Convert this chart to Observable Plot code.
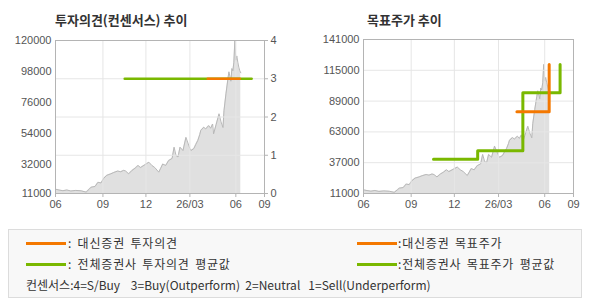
<!DOCTYPE html>
<html><head><meta charset="utf-8">
<script src="https://cdn.jsdelivr.net/npm/d3@7"></script>
<script src="https://cdn.jsdelivr.net/npm/@observablehq/plot@0.6"></script>
<style>
body{margin:0;background:#fff;width:590px;height:300px;overflow:hidden;font-family:"Noto Sans CJK KR","Noto Sans",sans-serif;}
#wrap{position:relative;width:590px;height:300px;}
.title{position:absolute;top:11px;font-size:13px;font-weight:bold;color:#333;line-height:18px;white-space:nowrap;}
.chart{position:absolute;top:0;}
#legendbox{position:absolute;left:8px;top:229px;width:574px;height:69px;border:1px solid #dcdcdc;background:#f8f8f8;box-sizing:border-box;}
.sw{position:absolute;width:40px;height:3px;}
.lt{position:absolute;font-size:12px;color:#333;line-height:16px;white-space:pre;}
.sp{letter-spacing:0.8px;word-spacing:2px;}
</style>
</head><body>
<div id="wrap">
  <div class="title" style="left:55px">투자의견(컨센서스) 추이</div>
  <div class="title" style="left:367px">목표주가 추이</div>
  <div id="c1" class="chart" style="left:0px"></div>
  <div id="c1o" class="chart" style="left:0px"></div>
  <div id="c2" class="chart" style="left:308px"></div>
  <div id="legendbox"></div>
  <div id="legend"></div>
</div>
<script>
// ---- data ----
// days since 2025-06-01
const priceDays = [1,7,15,23,31,41,52,62,68,72,80,86,92,98,104,112,118,126,132,138,142,148,155,161,167,172,181,189,195,201,209,213,217,223,229,236,240,244,248,252,258,264,268,272,274,280,284,288,292,294,300,304,310,314,318,320,325,331,335,339,341,345,349,351,355,357,359,361,363,365,367,369,371,373,375];
const prices = [14000,13500,13000,13500,12800,13200,12900,12000,14000,15500,16000,19000,18500,22000,24000,25000,26000,27000,26500,27500,27000,25000,27500,29000,31000,29500,31500,33300,31000,29500,26200,29000,32000,31000,34500,36000,44000,38000,37000,44000,41600,51000,47000,43000,41600,43000,46000,48800,53000,55900,58200,57000,59400,57500,60500,53500,60000,67800,62000,58000,70000,82000,92700,97700,91000,100000,98400,104500,120000,106000,109000,104500,101000,98400,97000];

const xTickDays = [0,96,183,272,365,423];
const xTickLabels = ["06","09","12","26/03","06","09"];
const leftPriceTicks = [11000,32000,54000,76000,98000,120000];
const rightPriceTicks = [11000,37000,63000,89000,115000,141000];
const opinionTicks = [0,1,2,3,4];

const opinionAllDays = [140,397];
const opinionAll = [3,3];
const opinionDaishinDays = [308,373];
const opinionDaishin = [3,3];

const targetAllDays = [141,230,321,396];
const targetAll = [40000,47000,96000,120000];
const targetDaishinDays = [309,374];
const targetDaishin = [80000,120000];

const ORANGE = "#f47800", GREEN = "#7ab800";

// ---- build tables ----
const priceData = priceDays.map((d,i)=>({day:d, price:prices[i]}));
const zip = (a,b)=>a.map((d,i)=>({day:d, v:b[i]}));
const labelOf = new Map(xTickDays.map((d,i)=>[d,xTickLabels[i]]));
const axisStyle = {fontFamily:"'Liberation Sans', Arial, sans-serif", fontSize:"11px", color:"#555", background:"transparent", overflow:"visible"};
const gridColor = "#e6e6e6";
const frameColor = "#b4b4b4";

// ---- left chart: price base ----
const left = Plot.plot({
  width:295, height:220, marginLeft:55, marginRight:31, marginTop:40, marginBottom:27,
  x:{domain:[0,423], label:null}, y:{domain:[11000,120000], label:null},
  style:axisStyle,
  marks:[
    Plot.areaY(priceData,{x:"day", y1:11000, y2:"price", fill:"#e0e0e0"}),
    Plot.lineY(priceData,{x:"day", y:"price", stroke:"#b8b8b8", strokeWidth:1}),
    Plot.axisY(leftPriceTicks,{anchor:"left", tickSize:0, tickPadding:4, tickFormat:d=>String(d), fill:"#555"}),
    Plot.axisX(xTickDays,{anchor:"bottom", tickSize:4, tickPadding:3, tickFormat:d=>labelOf.get(d), stroke:frameColor, fill:"#555"})
  ]
});
document.getElementById("c1").append(left);

// ---- left chart: opinion overlay ----
const leftO = Plot.plot({
  width:295, height:220, marginLeft:55, marginRight:31, marginTop:40, marginBottom:27,
  x:{domain:[0,423], label:null, axis:null}, y:{domain:[0,4], label:null},
  style:axisStyle,
  marks:[
    Plot.gridY(opinionTicks,{stroke:gridColor, strokeOpacity:1}),
    Plot.gridX(xTickDays,{stroke:gridColor, strokeOpacity:1}),
    Plot.line(zip(opinionAllDays,opinionAll),{x:"day", y:"v", stroke:GREEN, strokeWidth:2.5}),
    Plot.line(zip(opinionDaishinDays,opinionDaishin),{x:"day", y:"v", stroke:ORANGE, strokeWidth:2.5}),
    Plot.frame({stroke:frameColor}),
    Plot.axisY(opinionTicks,{anchor:"right", tickSize:3, tickPadding:3, stroke:frameColor, fill:"#555"})
  ]
});
document.getElementById("c1o").append(leftO);

// ---- right chart: target price ----
const right = Plot.plot({
  width:282, height:220, marginLeft:55, marginRight:17, marginTop:39, marginBottom:27,
  x:{domain:[0,423], label:null}, y:{domain:[11000,141000], label:null},
  style:axisStyle,
  marks:[
    Plot.areaY(priceData,{x:"day", y1:11000, y2:"price", fill:"#e0e0e0"}),
    Plot.lineY(priceData,{x:"day", y:"price", stroke:"#b8b8b8", strokeWidth:1}),
    Plot.gridY(rightPriceTicks,{stroke:gridColor, strokeOpacity:1}),
    Plot.gridX(xTickDays,{stroke:gridColor, strokeOpacity:1}),
    Plot.line(zip(targetAllDays,targetAll),{x:"day", y:"v", stroke:GREEN, strokeWidth:3, curve:"step-after"}),
    Plot.line(zip(targetDaishinDays,targetDaishin),{x:"day", y:"v", stroke:ORANGE, strokeWidth:3, curve:"step-after"}),
    Plot.frame({stroke:frameColor}),
    Plot.axisY(rightPriceTicks,{anchor:"left", tickSize:0, tickPadding:4, tickFormat:d=>String(d), fill:"#555"}),
    Plot.axisX(xTickDays,{anchor:"bottom", tickSize:4, tickPadding:3, tickFormat:d=>labelOf.get(d), stroke:frameColor, fill:"#555"})
  ]
});
document.getElementById("c2").append(right);

// ---- legend ----
const legendItems = [
  {text:": 대신증권 투자의견", color:ORANGE, x:26, tx:68, y:243},
  {text:": 전체증권사 투자의견 평균값", color:GREEN, x:26, tx:68, y:264},
  {text:":대신증권 목표주가", color:ORANGE, x:357, tx:398, y:243},
  {text:":전체증권사 목표주가 평균값", color:GREEN, x:357, tx:398, y:264}
];
const lg = document.getElementById("legend");
for (const it of legendItems) {
  const s = document.createElement("div");
  s.className = "sw"; s.style.background = it.color;
  s.style.left = it.x + "px"; s.style.top = (it.y - 1) + "px";
  lg.append(s);
  const t = document.createElement("div");
  t.className = "lt sp"; t.textContent = it.text;
  t.style.left = it.tx + "px"; t.style.top = (it.y - 8) + "px";
  lg.append(t);
}
const note = document.createElement("div");
note.className = "lt";
note.textContent = "컨센서스:4=S/Buy    3=Buy(Outperform)  2=Neutral   1=Sell(Underperform)";
note.style.left = "26px"; note.style.top = "277px";
lg.append(note);
</script>
</body></html>
